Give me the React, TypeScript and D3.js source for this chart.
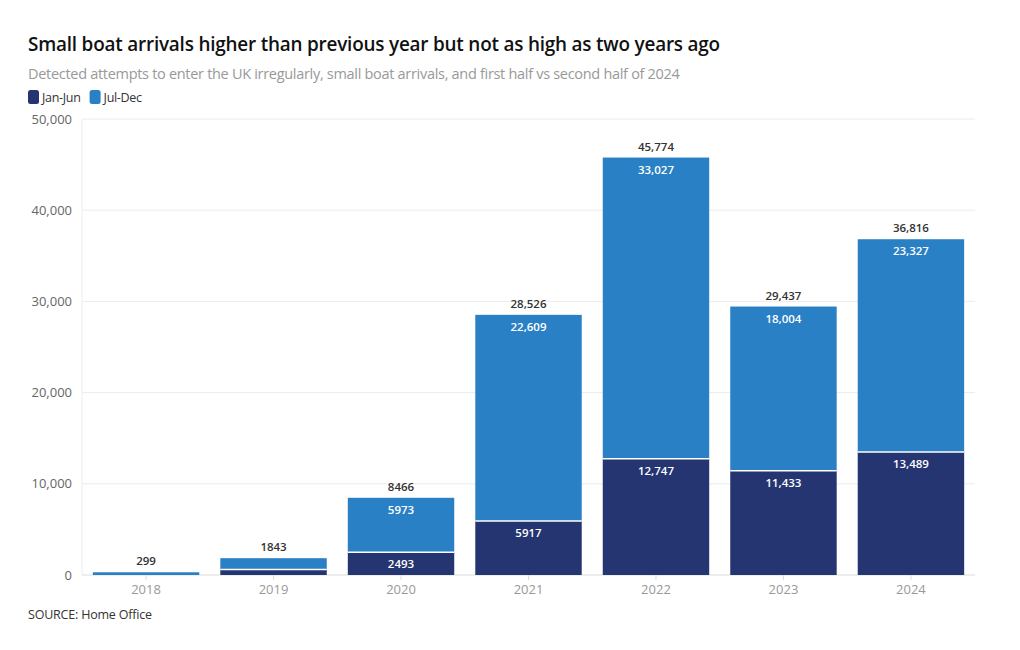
import React, { useRef, useEffect } from "react";
import * as d3 from "d3";

const years = ["2018", "2019", "2020", "2021", "2022", "2023", "2024"];
const janJun = [0, 600, 2493, 5917, 12747, 11433, 13489];
const julDec = [299, 1243, 5973, 22609, 33027, 18004, 23327];
const yTicks = [0, 10000, 20000, 30000, 40000, 50000];
const seriesNames = ["Jan-Jun", "Jul-Dec"];
const seriesColors = ["#253571", "#2a80c5"];

const W = 1020;
const H = 650;
const FONT = "'Open Sans', 'Noto Sans', sans-serif";

const App: React.FC = () => {
    const svgRef = useRef<SVGSVGElement | null>(null);

    useEffect(() => {
        if (!svgRef.current) return;
        const svg = d3.select(svgRef.current);
        svg.selectAll("*").remove();

        const left = 82;
        const right = 975;
        const top = 119;
        const bottom = 575;

        const x = d3.scaleBand().domain(years).range([left, right]).paddingInner(0.165).paddingOuter(0.085);
        const y = d3.scaleLinear().domain([0, 50000]).range([bottom, top]);

        // Title block
        svg.append("text").attr("x", 28).attr("y", 51).attr("font-family", FONT)
            .attr("font-size", 18.9).attr("font-weight", 600).attr("fill", "#111")
            .attr("letter-spacing", -0.2)
            .text("Small boat arrivals higher than previous year but not as high as two years ago");
        svg.append("text").attr("x", 28).attr("y", 79).attr("font-family", FONT)
            .attr("font-size", 14.5).attr("fill", "#999").attr("letter-spacing", -0.3)
            .text("Detected attempts to enter the UK irregularly, small boat arrivals, and first half vs second half of 2024");

        // Legend
        let lx = 28;
        seriesNames.forEach((name, i) => {
            svg.append("rect").attr("x", lx).attr("y", 90).attr("width", 11).attr("height", 14)
                .attr("rx", 2.5).attr("fill", seriesColors[i]);
            const t = svg.append("text").attr("x", lx + 14).attr("y", 102).attr("font-family", FONT)
                .attr("font-size", 12.5).attr("fill", "#333").attr("letter-spacing", -0.3).text(name);
            lx += 14 + (t.node() as SVGTextElement).getComputedTextLength() + 9;
        });

        // Grid
        const grid = svg.append("g");
        yTicks.forEach((t) => {
            grid.append("line").attr("x1", left).attr("x2", right).attr("y1", y(t)).attr("y2", y(t))
                .attr("stroke", t === 0 ? "#dcdcdc" : "#ececec").attr("stroke-width", 1);
            grid.append("text").attr("x", 72).attr("y", y(t) + 4.5).attr("text-anchor", "end")
                .attr("font-family", FONT).attr("font-size", 13).attr("fill", "#666")
                .text(d3.format(",")(t));
        });
        grid.append("line").attr("x1", left).attr("x2", left).attr("y1", top).attr("y2", bottom)
            .attr("stroke", "#ececec");

        // X axis ticks
        years.forEach((yr) => {
            const cx = x(yr)! + x.bandwidth() / 2;
            grid.append("line").attr("x1", cx).attr("x2", cx).attr("y1", bottom).attr("y2", bottom + 5)
                .attr("stroke", "#dcdcdc");
            grid.append("text").attr("x", cx).attr("y", 594).attr("text-anchor", "middle")
                .attr("font-family", FONT).attr("font-size", 13).attr("fill", "#999").text(yr);
        });

        // Stacked bars
        const rows = years.map((yr, i) => ({ year: yr, janJun: janJun[i], julDec: julDec[i] }));
        const stack = d3.stack<typeof rows[number]>().keys(["janJun", "julDec"]);
        const stacked = stack(rows);
        const fmt = (v: number) => (v >= 10000 ? d3.format(",")(v) : String(v));

        stacked.forEach((layer, li) => {
            const g = svg.append("g");
            layer.forEach((seg) => {
                const yr = seg.data.year;
                const y0 = y(seg[0]);
                const y1 = y(seg[1]);
                if (y0 - y1 <= 0) return;
                g.append("rect").attr("x", x(yr)!).attr("y", y1).attr("width", x.bandwidth())
                    .attr("height", y0 - y1).attr("fill", seriesColors[li]);
                // white separator on top of the lower segment
                if (li === 1 && seg[0] > 0) {
                    g.append("line").attr("x1", x(yr)!).attr("x2", x(yr)! + x.bandwidth())
                        .attr("y1", y0).attr("y2", y0).attr("stroke", "#fff").attr("stroke-width", 1.5);
                }
                if (y0 - y1 > 22) {
                    g.append("text").attr("x", x(yr)! + x.bandwidth() / 2).attr("y", y1 + 16)
                        .attr("text-anchor", "middle").attr("font-family", FONT).attr("font-size", 11.5)
                        .attr("font-weight", 600).attr("fill", "#fff").text(fmt(seg[1] - seg[0]));
                }
            });
        });

        // Totals
        rows.forEach((r) => {
            const total = r.janJun + r.julDec;
            svg.append("text").attr("x", x(r.year)! + x.bandwidth() / 2).attr("y", y(total) - 7)
                .attr("text-anchor", "middle").attr("font-family", FONT).attr("font-size", 11.5)
                .attr("font-weight", 600).attr("fill", "#333").text(fmt(total));
        });

        // Source
        svg.append("text").attr("x", 28).attr("y", 619).attr("font-family", FONT)
            .attr("font-size", 12.5).attr("fill", "#333").attr("letter-spacing", -0.2).text("SOURCE: Home Office");
    }, []);

    return <svg ref={svgRef} width={W} height={H} style={{ display: "block", margin: "-8px" }}></svg>;
};

export default App;
